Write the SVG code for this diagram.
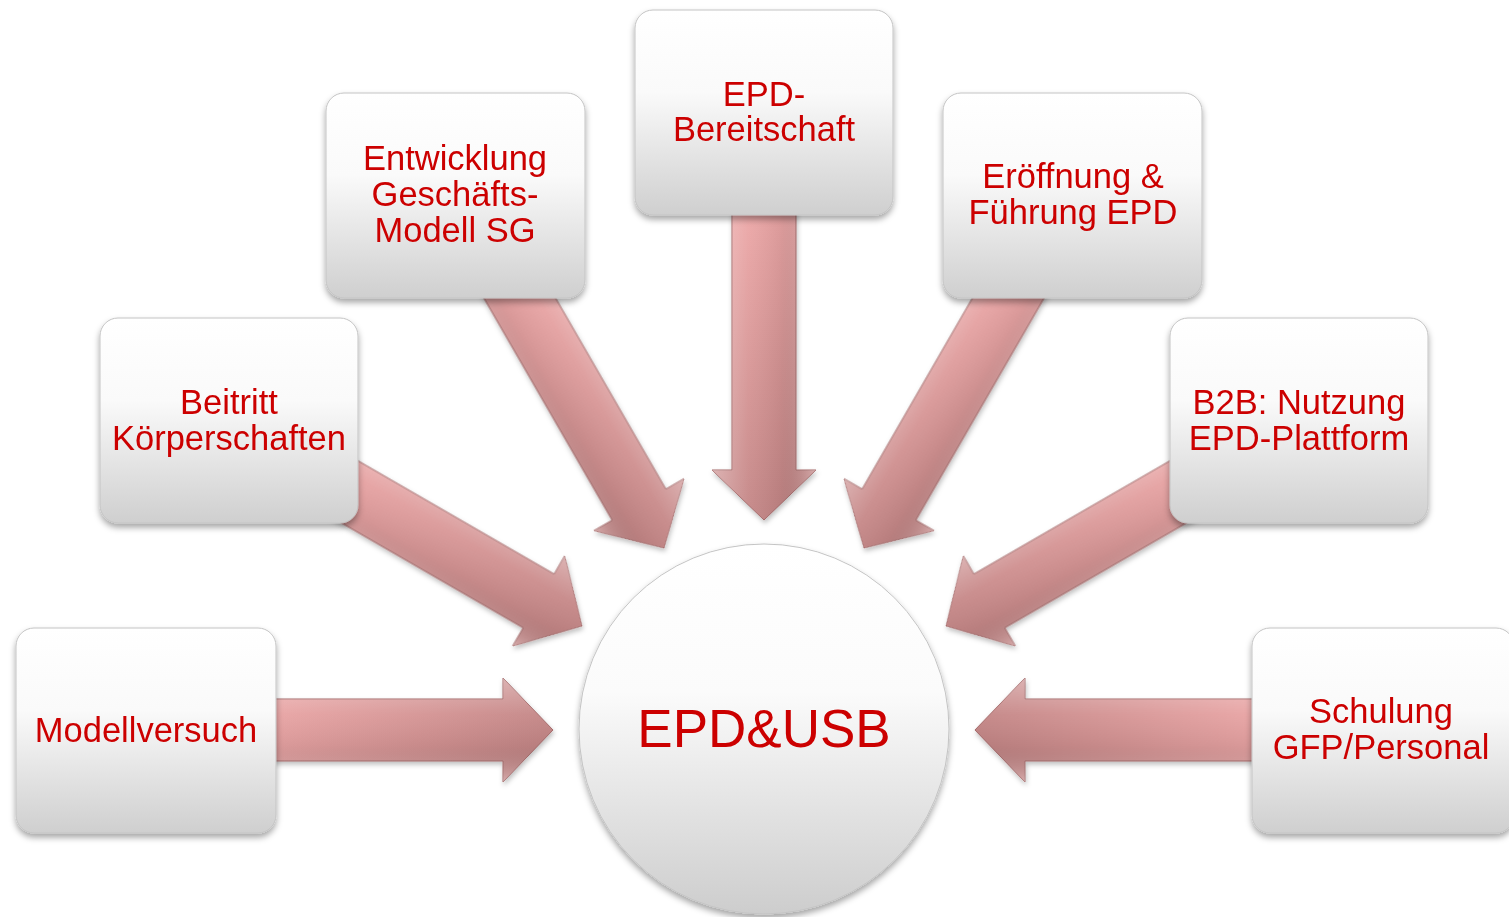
<svg xmlns="http://www.w3.org/2000/svg" width="1509" height="917" viewBox="0 0 1509 917">
<defs>
<linearGradient id="boxGrad" x1="0" y1="0" x2="0" y2="1">
<stop offset="0" stop-color="#ffffff"/>
<stop offset="0.4" stop-color="#fafafa"/>
<stop offset="1" stop-color="#cfcfcf"/>
</linearGradient>
<linearGradient id="circGrad" x1="0" y1="0" x2="0" y2="1">
<stop offset="0" stop-color="#ffffff"/>
<stop offset="0.4" stop-color="#fbfbfb"/>
<stop offset="1" stop-color="#cdcdcd"/>
</linearGradient>
<linearGradient id="arrGrad" gradientUnits="userSpaceOnUse" x1="-300" y1="0" x2="0" y2="0">
<stop offset="0" stop-color="#eba6a6"/>
<stop offset="1" stop-color="#c38585"/>
</linearGradient>
<linearGradient id="arrShade" gradientUnits="userSpaceOnUse" x1="0" y1="-52" x2="0" y2="52">
<stop offset="0" stop-color="#ffffff" stop-opacity="0.35"/>
<stop offset="0.35" stop-color="#ffffff" stop-opacity="0.05"/>
<stop offset="0.65" stop-color="#000000" stop-opacity="0.06"/>
<stop offset="1" stop-color="#ffffff" stop-opacity="0.3"/>
</linearGradient>
<filter id="shadow" x="-10%" y="-10%" width="120%" height="125%">
<feDropShadow dx="0" dy="4" stdDeviation="3" flood-color="#000" flood-opacity="0.35"/>
</filter>
<filter id="ashadow" x="-10%" y="-10%" width="120%" height="125%">
<feDropShadow dx="1" dy="3" stdDeviation="2.5" flood-color="#000" flood-opacity="0.25"/>
</filter>
</defs>
<style>
.box{fill:url(#boxGrad);stroke:#c4c4c4;stroke-width:1;filter:url(#shadow);}
.circ{fill:url(#circGrad);stroke:#c4c4c4;stroke-width:1;filter:url(#shadow);}
.arr{fill:url(#arrGrad);stroke:#a46a6a;stroke-width:1;}
.shade{fill:url(#arrShade);stroke:none;}
.lbl{font-family:"Liberation Sans",Arial,sans-serif;font-size:34.5px;fill:#cc0000;text-anchor:middle;}
.big{font-family:"Liberation Sans",Arial,sans-serif;font-size:53px;fill:#cc0000;text-anchor:middle;}
</style>
<rect width="1509" height="917" fill="#ffffff"/>
<g id="connectors">
<g filter="url(#ashadow)">
<g transform="translate(553,730)">
<path class="arr" d="M-290,-31 L-50,-31 L-50,-52 L0,0 L-50,52 L-50,31 L-290,31 Z"/>
<path class="shade" d="M-290,-31 L-50,-31 L-50,-52 L0,0 L-50,52 L-50,31 L-290,31 Z"/>
</g>
<g transform="translate(582,626) rotate(30)">
<path class="arr" d="M-290,-31 L-50,-31 L-50,-52 L0,0 L-50,52 L-50,31 L-290,31 Z"/>
<path class="shade" d="M-290,-31 L-50,-31 L-50,-52 L0,0 L-50,52 L-50,31 L-290,31 Z"/>
</g>
<g transform="translate(664,548) rotate(60)">
<path class="arr" d="M-330,-31 L-50,-31 L-50,-52 L0,0 L-50,52 L-50,31 L-330,31 Z"/>
<path class="shade" d="M-330,-31 L-50,-31 L-50,-52 L0,0 L-50,52 L-50,31 L-330,31 Z"/>
</g>
<g transform="translate(764,520) rotate(90) scale(1,-1)">
<path class="arr" d="M-320,-32 L-50,-32 L-50,-52 L0,0 L-50,52 L-50,32 L-320,32 Z"/>
<path class="shade" d="M-320,-32 L-50,-32 L-50,-52 L0,0 L-50,52 L-50,32 L-320,32 Z"/>
</g>
<g transform="translate(864,548) scale(-1,1) rotate(60)">
<path class="arr" d="M-330,-31 L-50,-31 L-50,-52 L0,0 L-50,52 L-50,31 L-330,31 Z"/>
<path class="shade" d="M-330,-31 L-50,-31 L-50,-52 L0,0 L-50,52 L-50,31 L-330,31 Z"/>
</g>
<g transform="translate(946,626) scale(-1,1) rotate(30)">
<path class="arr" d="M-290,-31 L-50,-31 L-50,-52 L0,0 L-50,52 L-50,31 L-290,31 Z"/>
<path class="shade" d="M-290,-31 L-50,-31 L-50,-52 L0,0 L-50,52 L-50,31 L-290,31 Z"/>
</g>
<g transform="translate(975,730) scale(-1,1)">
<path class="arr" d="M-290,-31 L-50,-31 L-50,-52 L0,0 L-50,52 L-50,31 L-290,31 Z"/>
<path class="shade" d="M-290,-31 L-50,-31 L-50,-52 L0,0 L-50,52 L-50,31 L-290,31 Z"/>
</g>
</g>
</g>
<g id="node-modellversuch">
<rect class="box" x="16" y="628" width="260" height="205" rx="18"/>
<text class="lbl" x="146" y="742">Modellversuch</text>
</g>
<g id="node-beitritt">
<rect class="box" x="100" y="318" width="258" height="205" rx="18"/>
<text class="lbl" x="229" y="414">Beitritt</text>
<text class="lbl" x="229" y="450">Körperschaften</text>
</g>
<g id="node-entwicklung">
<rect class="box" x="326" y="93" width="259" height="205" rx="18"/>
<text class="lbl" x="455" y="170">Entwicklung</text>
<text class="lbl" x="455" y="206">Geschäfts-</text>
<text class="lbl" x="455" y="242">Modell SG</text>
</g>
<g id="node-bereitschaft">
<rect class="box" x="635" y="10" width="258" height="205" rx="18"/>
<text class="lbl" x="764" y="106">EPD-</text>
<text class="lbl" x="764" y="141">Bereitschaft</text>
</g>
<g id="node-eroeffnung">
<rect class="box" x="943" y="93" width="259" height="205" rx="18"/>
<text class="lbl" x="1073" y="188">Eröffnung &amp;</text>
<text class="lbl" x="1073" y="224">Führung EPD</text>
</g>
<g id="node-b2b">
<rect class="box" x="1170" y="318" width="258" height="205" rx="18"/>
<text class="lbl" x="1299" y="414">B2B: Nutzung</text>
<text class="lbl" x="1299" y="450">EPD-Plattform</text>
</g>
<g id="node-schulung">
<rect class="box" x="1252" y="628" width="262" height="205" rx="18"/>
<text class="lbl" x="1381" y="723">Schulung</text>
<text class="lbl" x="1381" y="759">GFP/Personal</text>
</g>
<g id="node-center">
<circle class="circ" cx="764" cy="729" r="185"/>
<text class="big" x="764" y="747">EPD&amp;USB</text>
</g>
</svg>
